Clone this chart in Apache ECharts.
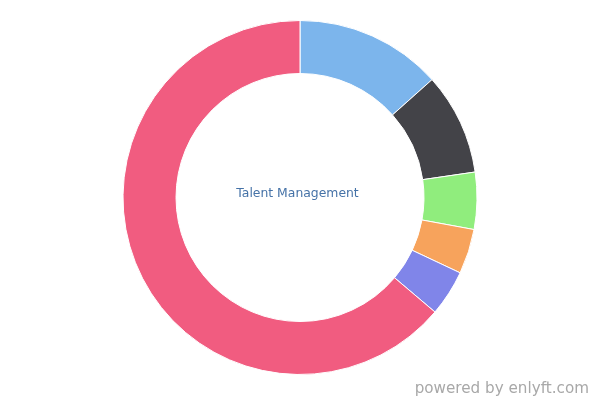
<!DOCTYPE html>
<html>
<head>
<meta charset="utf-8">
<script src="https://cdn.jsdelivr.net/npm/echarts@6/dist/echarts.min.js"></script>
<style>html,body{margin:0;padding:0;background:#fff}#c{width:600px;height:400px}</style>
</head>
<body>
<div id="c"></div>
<script>
const categories = ['A', 'B', 'C', 'D', 'E', 'F'];
const values = [13.4, 9.3, 5.2, 4.1, 4.2, 63.8];
const colors = ['#7cb5ec', '#434348', '#90ed7d', '#f7a35c', '#8085e9', '#f15c80'];
const centerTitle = 'Talent Management';
const credit = 'powered by enlyft.com';

const chart = echarts.init(document.getElementById('c'), null, {renderer: 'canvas'});
chart.setOption({
  animation: false,
  color: colors,
  graphic: [
    {type: 'text', style: {text: centerTitle, fill: '#4572a7', font: '12.4px "DejaVu Sans"', textAlign: 'center', textVerticalAlign: 'middle'}, position: [297.5, 193.5]},
    {type: 'text', style: {text: credit, fill: '#a8a8a8', font: '15.2px "DejaVu Sans"', textAlign: 'right', textVerticalAlign: 'middle'}, position: [589, 389.5]}
  ],
  series: [{
    type: 'pie',
    center: [300, 197.5],
    radius: [124, 177],
    startAngle: 90,
    clockwise: true,
    label: {show: false},
    labelLine: {show: false},
    emphasis: {disabled: true},
    itemStyle: {borderColor: '#ffffff', borderWidth: 1},
    data: categories.map((n, i) => ({name: n, value: values[i]}))
  }]
});
</script>
</body>
</html>
